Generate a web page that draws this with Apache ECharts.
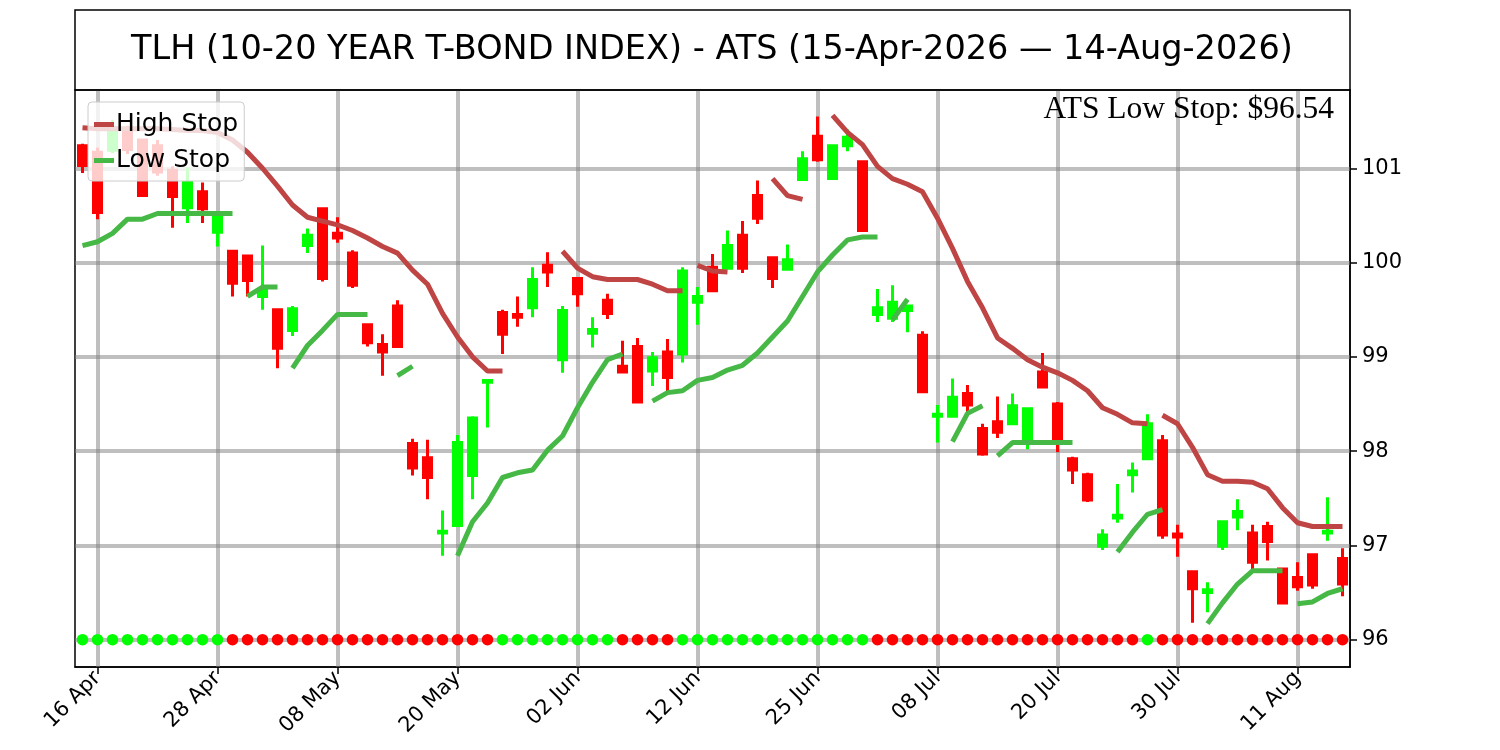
<!DOCTYPE html>
<html>
<head>
<meta charset="utf-8">
<title>TLH ATS</title>
<script src="https://cdn.jsdelivr.net/npm/echarts@6.0.0/dist/echarts.min.js"></script>
<style>
html,body{margin:0;padding:0;background:#fff;}
#chart{width:1500px;height:750px;}
</style>
</head>
<body>
<div id="chart"></div>
<script>
// trading days 15-Apr-2026 .. 14-Aug-2026
var dates = ['15 Apr','16 Apr','17 Apr','20 Apr','21 Apr','22 Apr','23 Apr','24 Apr','27 Apr','28 Apr','29 Apr','30 Apr',
  '01 May','04 May','05 May','06 May','07 May','08 May','11 May','12 May','13 May','14 May','15 May','18 May','19 May','20 May','21 May','22 May','26 May','27 May','28 May','29 May',
  '01 Jun','02 Jun','03 Jun','04 Jun','05 Jun','08 Jun','09 Jun','10 Jun','11 Jun','12 Jun','15 Jun','16 Jun','17 Jun','18 Jun','22 Jun','23 Jun','24 Jun','25 Jun','26 Jun','29 Jun','30 Jun',
  '01 Jul','02 Jul','06 Jul','07 Jul','08 Jul','09 Jul','10 Jul','13 Jul','14 Jul','15 Jul','16 Jul','17 Jul','20 Jul','21 Jul','22 Jul','23 Jul','24 Jul','27 Jul','28 Jul','29 Jul','30 Jul','31 Jul',
  '03 Aug','04 Aug','05 Aug','06 Aug','07 Aug','10 Aug','11 Aug','12 Aug','13 Aug','14 Aug'];

var opens = [101.24,101.17,101.19,101.40,101.30,101.24,100.98,100.58,100.75,100.32,
  100.12,100.07,99.64,99.50,99.28,100.18,100.57,100.31,100.10,99.34,
  99.13,99.54,98.08,97.93,97.13,97.21,97.74,98.73,99.47,99.45,
  99.52,99.97,98.97,99.83,99.25,99.60,98.90,99.11,98.85,99.05,
  99.03,99.58,99.95,99.94,100.29,100.71,100.05,99.93,100.88,101.34,
  100.89,101.24,101.07,99.45,99.41,99.49,99.23,98.37,98.37,98.61,
  98.24,98.31,98.29,98.10,98.84,98.50,97.92,97.75,96.99,97.29,
  97.75,97.92,98.11,97.12,96.72,96.50,96.99,97.30,97.13,97.20,
  96.75,96.66,96.90,97.13,96.86];
var closes = [101.03,100.53,101.43,101.20,100.71,100.96,100.70,100.85,100.57,100.52,
  99.78,99.81,99.71,99.09,99.51,100.29,99.83,100.26,99.76,99.15,
  99.05,99.11,97.82,97.72,97.15,98.09,98.35,98.75,99.24,99.42,
  99.82,99.90,99.49,99.67,99.29,99.46,98.84,98.52,98.99,98.78,
  99.91,99.64,99.70,100.18,99.94,100.47,99.83,100.03,101.10,101.09,
  101.24,101.33,100.34,99.52,99.58,99.54,98.63,98.39,98.57,98.49,
  97.97,98.20,98.48,98.45,98.68,98.13,97.80,97.48,97.11,97.32,
  97.79,98.29,97.11,97.09,96.54,96.53,97.25,97.36,96.82,97.04,
  96.39,96.56,96.58,97.15,96.59];
var lows = [100.95,100.46,101.16,101.15,100.70,100.92,100.37,100.42,100.42,100.17,
  99.64,99.64,99.50,98.88,99.22,100.10,99.80,100.21,99.73,99.11,
  98.80,99.10,97.74,97.49,96.89,97.20,97.49,98.25,99.03,99.32,
  99.42,99.74,98.83,99.53,99.10,99.40,98.83,98.52,98.69,98.62,
  98.94,99.34,99.70,99.93,99.89,100.41,99.73,99.93,100.88,101.07,
  100.89,101.18,100.33,99.37,99.37,99.26,98.63,98.09,98.37,98.38,
  97.95,98.14,98.29,98.02,98.67,97.99,97.65,97.46,96.95,97.24,
  97.56,97.92,97.07,96.88,96.18,96.29,96.95,97.16,96.73,96.84,
  96.39,96.52,96.54,97.05,96.46];
var highs = [101.26,101.22,101.51,101.45,101.30,101.30,101.02,101.01,100.85,100.53,
  100.13,100.08,100.18,99.51,99.54,100.36,100.58,100.48,100.13,99.35,
  99.24,99.60,98.13,98.12,97.37,98.17,98.37,98.75,99.50,99.64,
  99.95,100.11,99.54,99.83,99.42,99.67,99.17,99.20,99.05,99.19,
  99.95,99.74,100.09,100.34,100.44,100.87,100.05,100.19,101.18,101.55,
  101.25,101.41,101.07,99.72,99.76,99.54,99.27,98.49,98.77,98.70,
  98.29,98.58,98.61,98.45,99.04,98.52,97.94,97.77,97.17,97.65,
  97.88,98.39,98.17,97.22,96.72,96.61,97.25,97.49,97.22,97.25,
  96.76,96.82,96.90,97.51,96.97];

// stop lines, as [start index, values]
var highStopSegs = [
  [0, [101.43,101.42,101.42,101.42,101.42,101.42,101.41,101.40,101.40,101.38,101.30,101.17,101.00,100.81,100.61,
       100.48,100.44,100.40,100.34,100.26,100.17,100.10,99.92,99.77,99.46,99.21,99.00,98.85,98.85]],
  [32, [100.12,99.94,99.85,99.82,99.82,99.82,99.77,99.70,99.70]],
  [41, [99.97,99.91,99.90]],
  [46, [100.89,100.71,100.67]],
  [50, [101.56,101.38,101.25,101.02,100.89,100.83,100.75,100.47,100.15,99.80,99.52,99.20,99.09,98.97,98.89,
        98.83,98.75,98.64,98.46,98.39,98.30,98.29]],
  [72, [98.38,98.29,98.04,97.75,97.68,97.68,97.67,97.60,97.40,97.24,97.20,97.20,97.20]]
];
var lowStopSegs = [
  [0, [100.18,100.22,100.31,100.46,100.46,100.52,100.52,100.52,100.52,100.52,100.52]],
  [11, [99.64,99.74,99.74]],
  [14, [98.88,99.12,99.28,99.45,99.45,99.45]],
  [21, [98.80,98.90]],
  [25, [96.89,97.25,97.45,97.72,97.77,97.80,98.01,98.16,98.46,98.73,98.97,99.03]],
  [38, [98.53,98.62,98.64,98.75,98.78,98.86,98.91,99.04,99.21,99.38,99.64,99.90,100.08,100.24,100.27,100.27]],
  [54, [99.39,99.61]],
  [58, [98.10,98.40,98.48]],
  [61, [97.95,98.09,98.09,98.09,98.09,98.09]],
  [69, [96.93,97.14,97.33,97.38]],
  [75, [96.17,96.39,96.59,96.73,96.73,96.73]],
  [81, [96.38,96.40,96.49,96.54]]
];

// 1 = green dot, 0 = red dot
var trendUp = [1,1,1,1,1,1,1,1,1,1, 0,0,0,0,0,0,0,0,0,0,0,0,0,0,0,0,0,0,
  1,1,1,1,1,1,1,1, 0,0,0,0, 1,1,1,1,1,1,1,1,1,1,1,1,1,
  0,0,0,0,0,0,0,0,0,0,0,0,0,0,0,0,0,0, 1, 0,0,0,0,0,0,0,0,0,0,0,0,0];
var signalLevel = 96;

var yTicks = [96, 97, 98, 99, 100, 101];
var xTickIdx = [1, 9, 17, 25, 33, 41, 49, 57, 65, 73, 81];

var UP = '#00ff00', DOWN = '#ff0000';
var HIGH_C = '#bf4444', LOW_C = '#45b845';
var FONT = '"DejaVu Sans", sans-serif';

function segSeries(segs, parity) {
  var arr = dates.map(function(){ return null; });
  segs.forEach(function(s, k){
    if (k % 2 !== parity) return;
    s[1].forEach(function(v, j){ arr[s[0] + j] = v; });
  });
  return arr;
}
function isTick(i){ return xTickIdx.indexOf(i) >= 0; }

var lastSeg = lowStopSegs[lowStopSegs.length - 1][1];
var lowStopNow = lastSeg[lastSeg.length - 1];

var candles = dates.map(function(d, i){ return [opens[i], closes[i], lows[i], highs[i]]; });
var dots = trendUp.map(function(u, i){
  return { value: [i, signalLevel], itemStyle: { color: u ? UP : DOWN, opacity: 1 } };
});

function stopLine(name, color, data) {
  return {
    name: name, type: 'line', data: data, connectNulls: false,
    symbol: 'none', showSymbol: false, z: 3, color: color,
    lineStyle: { color: color, width: 5 }
  };
}

var chart = echarts.init(document.getElementById('chart'));
chart.setOption({
  animation: false,
  backgroundColor: '#fff',
  grid: { left: 75, right: 150, top: 90, bottom: 83, show: true, borderColor: '#000', borderWidth: 1.5, backgroundColor: 'transparent' },
  graphic: [
    { type: 'rect', shape: { x: 75, y: 10, width: 1275, height: 80 }, style: { fill: 'none', stroke: '#000', lineWidth: 1.5 }, z: 10 },
    { type: 'text', x: 712, y: 50, style: { text: 'TLH (10-20 YEAR T-BOND INDEX) - ATS (15-Apr-2026 \u2014 14-Aug-2026)',
        font: '33.5px ' + FONT, fill: '#000', textAlign: 'center', textVerticalAlign: 'middle' }, z: 10 },
    { type: 'text', x: 1334, y: 110, style: { text: 'ATS Low Stop: $' + lowStopNow.toFixed(2),
        font: '31.5px "Liberation Serif", "DejaVu Serif", serif', fill: '#000', textAlign: 'right', textVerticalAlign: 'middle' }, z: 10 }
  ],
  legend: {
    data: ['High Stop', 'Low Stop'], orient: 'vertical', left: 88, top: 102,
    icon: 'rect', itemWidth: 20, itemHeight: 5, itemGap: 11, padding: [10, 6, 8, 6],
    backgroundColor: 'rgba(255,255,255,0.8)', borderColor: '#cccccc', borderWidth: 1, borderRadius: 4,
    textStyle: { fontFamily: FONT, fontSize: 25, color: '#000', padding: [0, 0, 0, -3] }
  },
  xAxis: {
    type: 'category', data: dates, boundaryGap: true,
    axisLine: { show: true, lineStyle: { color: '#000', width: 1.5 } },
    axisTick: { show: true, alignWithLabel: true, interval: function(i){ return isTick(i); }, length: 7, lineStyle: { color: '#000', width: 1.5 } },
    axisLabel: { interval: function(i){ return isTick(i); }, rotate: 45, margin: 8, color: '#000', fontFamily: FONT, fontSize: 21 },
    splitLine: { show: false }
  },
  yAxis: {
    type: 'value', position: 'right', min: 95.71, max: 101.83, splitNumber: 6, scale: true,
    axisLine: { show: true, lineStyle: { color: '#000', width: 1.5 } },
    axisTick: { show: true, length: 7, customValues: yTicks, lineStyle: { color: '#000', width: 1.5 } },
    axisLabel: { customValues: yTicks, margin: 12, color: '#000', fontFamily: FONT, fontSize: 21 },
    splitLine: { show: false }
  },
  series: [
    {
      name: 'TLH', type: 'candlestick', data: candles, barWidth: 8, z: 2,
      itemStyle: { color: UP, color0: DOWN, borderColor: UP, borderColor0: DOWN, borderWidth: 3 },
      markLine: {
        silent: true, symbol: 'none', z: 1, animation: false,
        label: { show: false },
        lineStyle: { color: 'rgba(128,128,128,0.5)', width: 4, type: 'solid' },
        data: yTicks.map(function(v){ return { yAxis: v }; })
          .concat(xTickIdx.map(function(i){ return { xAxis: dates[i] }; }))
      }
    },
    stopLine('High Stop', HIGH_C, segSeries(highStopSegs, 0)),
    stopLine('High Stop', HIGH_C, segSeries(highStopSegs, 1)),
    stopLine('Low Stop', LOW_C, segSeries(lowStopSegs, 0)),
    stopLine('Low Stop', LOW_C, segSeries(lowStopSegs, 1)),
    { name: 'Signal', type: 'scatter', data: dots, symbolSize: 11.5, z: 4, itemStyle: { opacity: 1 } }
  ]
});
</script>
</body>
</html>
